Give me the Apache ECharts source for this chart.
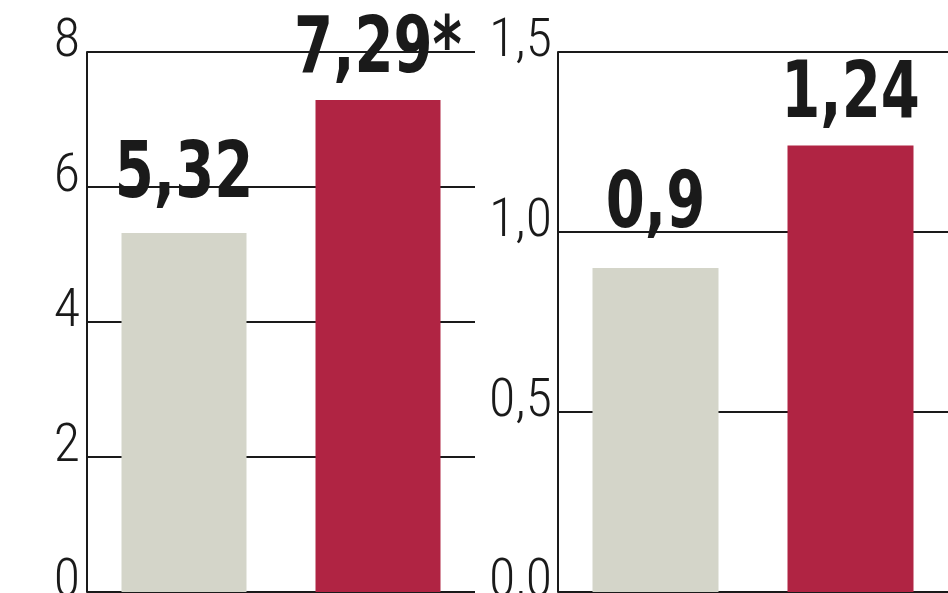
<!DOCTYPE html>
<html>
<head>
<meta charset="utf-8">
<script src="https://cdn.jsdelivr.net/npm/echarts@6/dist/echarts.min.js"></script>
<style>
html,body{margin:0;padding:0;background:#fff;}
#chart{width:948px;height:593px;}
</style>
</head>
<body>
<div id="chart"></div>
<script>
// ---- data ----
const categories = ['A', 'B'];
const leftValues = [5.32, 7.29];
const leftLabels = ['5,32', '7,29*'];
const rightValues = [0.9, 1.24];
const rightLabels = ['0,9', '1,24'];
const leftAxis = { min: 0, max: 8, interval: 2 };
const rightAxis = { min: 0, max: 1.5, interval: 0.5 };
const barColors = ['#d4d5c9', '#b02443'];
const labelGaps = { left: [17, 9], right: [22, 10] };

const tickFont = '"Roboto Condensed", Roboto, "DejaVu Sans Condensed", sans-serif';
const valFont = '"DejaVu Sans Condensed", "DejaVu Sans", sans-serif';
const INK = '#1a1a1a';

function barData(values) {
  return values.map((v, i) => ({ value: v, itemStyle: { color: barColors[i] } }));
}

function labelSeries(idx, values, labels, gaps) {
  return {
    type: 'custom', xAxisIndex: idx, yAxisIndex: idx, z: 10,
    data: values.map((v, i) => [i, v]),
    encode: { x: 0, y: 1 },
    renderItem: function (params, api) {
      const p = api.coord([api.value(0), api.value(1)]);
      const i = params.dataIndex;
      return {
        type: 'text',
        x: p[0], y: p[1] - gaps[i],
        scaleX: 0.8,
        style: {
          text: labels[i],
          fill: INK,
          font: 'bold 78px ' + valFont,
          lineHeight: 78,
          align: 'center',
          verticalAlign: 'bottom'
        }
      };
    }
  };
}

function yAxis(idx, cfg, decimals, lh, margin) {
  return {
    type: 'value', gridIndex: idx,
    min: cfg.min, max: cfg.max, interval: cfg.interval,
    axisLine: { show: true, lineStyle: { color: INK, width: 2 } },
    axisTick: { show: false },
    splitLine: { show: true, lineStyle: { color: INK, width: 2 } },
    axisLabel: {
      margin: margin,
      color: INK,
      fontFamily: tickFont,
      fontWeight: 300,
      fontSize: 54,
      lineHeight: lh,
      verticalAlign: 'bottom',
      formatter: v => v.toFixed(decimals).replace('.', ',')
    }
  };
}

function xAxis(idx) {
  return {
    type: 'category', gridIndex: idx, data: categories,
    axisLine: { show: false }, axisTick: { show: false }, axisLabel: { show: false },
    splitLine: { show: false }
  };
}

const chart = echarts.init(document.getElementById('chart'), null, { renderer: 'canvas' });
chart.setOption({
  animation: false,
  backgroundColor: '#ffffff',
  grid: [
    { left: 87, right: 473, top: 52, bottom: 1, containLabel: false, outerBoundsMode: 'none' },
    { left: 558, right: 0, top: 52, bottom: 1, containLabel: false, outerBoundsMode: 'none' }
  ],
  xAxis: [xAxis(0), xAxis(1)],
  yAxis: [yAxis(0, leftAxis, 0, 20, 7), yAxis(1, rightAxis, 1, 20, 6)],
  series: [
    { type: 'bar', xAxisIndex: 0, yAxisIndex: 0, barWidth: 125, data: barData(leftValues) },
    { type: 'bar', xAxisIndex: 1, yAxisIndex: 1, barWidth: 126, data: barData(rightValues) },
    labelSeries(0, leftValues, leftLabels, labelGaps.left),
    labelSeries(1, rightValues, rightLabels, labelGaps.right)
  ]
});
</script>
</body>
</html>
